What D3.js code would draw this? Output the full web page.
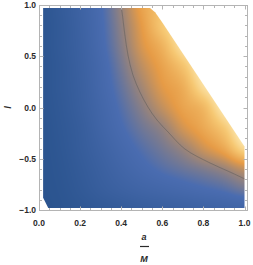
<!DOCTYPE html>
<html>
<head>
<meta charset="utf-8">
<script src="https://cdn.jsdelivr.net/npm/d3@7"></script>
<style>
  body { margin: 0; background: #fff; }
  svg { display: block; }
  text { font-family: "Liberation Sans", Arial, sans-serif; }
</style>
</head>
<body>
<div id="chart"></div>
<script>
// grid of density levels (0 = dark blue, 1 = pale yellow)
const spinValues = [0, 0.1, 0.2, 0.3, 0.4, 0.5, 0.6, 0.7, 0.8, 0.9, 1.0];
const lValues = [1.0, 0.8, 0.6, 0.4, 0.2, 0.0, -0.2, -0.4, -0.6, -0.8, -1.0];
const levels = [
  [0.04, 0.12, 0.22, 0.34, 0.50, 0.68, 0.80, 0.88, 0.92, 0.95, 1.00],
  [0.04, 0.11, 0.21, 0.33, 0.48, 0.65, 0.82, 0.95, 1.00, 1.00, 1.00],
  [0.04, 0.11, 0.20, 0.32, 0.46, 0.62, 0.74, 0.92, 1.00, 1.00, 1.00],
  [0.04, 0.10, 0.19, 0.30, 0.43, 0.57, 0.68, 0.80, 0.97, 1.00, 1.00],
  [0.04, 0.10, 0.18, 0.29, 0.40, 0.52, 0.64, 0.72, 0.90, 1.00, 1.00],
  [0.04, 0.09, 0.17, 0.27, 0.37, 0.47, 0.58, 0.68, 0.76, 0.95, 1.00],
  [0.03, 0.08, 0.15, 0.25, 0.34, 0.42, 0.49, 0.61, 0.70, 0.82, 1.00],
  [0.03, 0.07, 0.14, 0.22, 0.30, 0.37, 0.43, 0.50, 0.60, 0.70, 0.88],
  [0.03, 0.06, 0.12, 0.19, 0.26, 0.32, 0.37, 0.41, 0.45, 0.50, 0.58],
  [0.03, 0.05, 0.10, 0.16, 0.21, 0.25, 0.28, 0.31, 0.34, 0.37, 0.42],
  [0.02, 0.04, 0.07, 0.10, 0.13, 0.16, 0.18, 0.20, 0.22, 0.24, 0.25]
];

// edge of the region where the plot is defined
const edgeSpin = [0.02, 0.54, 0.565, 0.60, 1.0, 1.0, 0.045, 0.02];
const edgeL = [0.97, 0.97, 0.93, 0.83, -0.38, -0.98, -0.98, -0.88];

// the grey contour line
const contourSpin = [0.399, 0.404, 0.418, 0.433, 0.457, 0.491, 0.530, 0.574, 0.628, 0.710, 0.832, 0.929, 1.002];
const contourL = [0.98, 0.93, 0.707, 0.512, 0.317, 0.151, 0.005, -0.122, -0.239, -0.405, -0.541, -0.629, -0.698];

const xTicks = [0, 0.2, 0.4, 0.6, 0.8, 1.0];
const yTicks = [-1, -0.5, 0, 0.5, 1];

const colorStops = [0, 0.35, 0.65, 0.82, 1];
const colorRange = ["#28528c", "#4a6cb0", "#e69b46", "#f6c873", "#fff6cc"];

const width = 253, height = 265;
const frame = { left: 39, right: 247, top: 5, bottom: 210 };

const x = d3.scaleLinear().domain([0, 1]).range([39, 244.5]);
const y = d3.scaleLinear().domain([-1, 1]).range([210, 5]);
const color = d3.scaleLinear().domain(colorStops).range(colorRange)
  .interpolate(d3.interpolateRgb).clamp(true);

// smooth lookup in the level grid
function cubic(p0, p1, p2, p3, t) {
  return p1 + 0.5 * t * (p2 - p0 + t * (2 * p0 - 5 * p1 + 4 * p2 - p3 + t * (3 * (p1 - p2) + p3 - p0)));
}
function levelAt(a, l) {
  const n = spinValues.length, m = lValues.length;
  const gx = Math.max(0, Math.min(n - 1, (a - spinValues[0]) / (spinValues[1] - spinValues[0])));
  const gy = Math.max(0, Math.min(m - 1, (l - lValues[0]) / (lValues[1] - lValues[0])));
  const i = Math.min(n - 2, Math.floor(gx)), j = Math.min(m - 2, Math.floor(gy));
  const fx = gx - i, fy = gy - j;
  const ci = k => Math.max(0, Math.min(n - 1, k));
  const cj = k => Math.max(0, Math.min(m - 1, k));
  const rows = [-1, 0, 1, 2].map(dj => {
    const r = levels[cj(j + dj)];
    return cubic(r[ci(i - 1)], r[ci(i)], r[ci(i + 1)], r[ci(i + 2)], fx);
  });
  return cubic(rows[0], rows[1], rows[2], rows[3], fy);
}

const svg = d3.select("#chart").append("svg")
  .attr("width", width).attr("height", height);

svg.append("clipPath").attr("id", "region")
  .append("polygon")
  .attr("points", edgeSpin.map((a, i) => [x(a), y(edgeL[i])].join(",")).join(" "));

// density image
const canvas = document.createElement("canvas");
canvas.width = width; canvas.height = height;
const ctx = canvas.getContext("2d");
const img = ctx.createImageData(width, height);
for (let py = frame.top; py <= frame.bottom; py++) {
  for (let px = frame.left; px <= frame.right; px++) {
    const c = d3.rgb(color(levelAt(x.invert(px + 0.5), y.invert(py + 0.5))));
    const k = (py * width + px) * 4;
    img.data[k] = c.r; img.data[k + 1] = c.g; img.data[k + 2] = c.b; img.data[k + 3] = 255;
  }
}
ctx.putImageData(img, 0, 0);

const plot = svg.append("g").attr("clip-path", "url(#region)");
plot.append("image")
  .attr("width", width).attr("height", height)
  .attr("href", canvas.toDataURL());

const line = d3.line()
  .x((d, i) => x(contourSpin[i]))
  .y((d, i) => y(contourL[i]))
  .curve(d3.curveCatmullRom);
plot.append("path")
  .attr("d", line(contourSpin))
  .attr("fill", "none")
  .attr("stroke", "#5a5a5a")
  .attr("stroke-opacity", 0.5)
  .attr("stroke-width", 1);

// frame and ticks
const frameColor = "#b4b4b4";
svg.append("rect")
  .attr("x", frame.left + 0.5).attr("y", frame.top + 0.5)
  .attr("width", frame.right - frame.left).attr("height", frame.bottom - frame.top)
  .attr("fill", "none").attr("stroke", frameColor);

const ticks = svg.append("g").attr("stroke", frameColor).attr("stroke-width", 1);
const xMinor = d3.range(0, 1.0001, 0.05);
const yMinor = d3.range(-1, 1.0001, 0.1);
xMinor.forEach(v => {
  const major = xTicks.some(t => Math.abs(t - v) < 1e-6);
  const len = major ? 4 : 2.5;
  const px = Math.round(x(v)) + 0.5;
  ticks.append("line").attr("x1", px).attr("x2", px)
    .attr("y1", frame.bottom + 0.5).attr("y2", frame.bottom + 0.5 - len);
  ticks.append("line").attr("x1", px).attr("x2", px)
    .attr("y1", frame.top + 0.5).attr("y2", frame.top + 0.5 + len);
});
yMinor.forEach(v => {
  const major = yTicks.some(t => Math.abs(t - v) < 1e-6);
  const len = major ? 4 : 2.5;
  const py = Math.round(y(v)) + 0.5;
  ticks.append("line").attr("y1", py).attr("y2", py)
    .attr("x1", frame.left + 0.5).attr("x2", frame.left + 0.5 + len);
  ticks.append("line").attr("y1", py).attr("y2", py)
    .attr("x1", frame.right + 0.5).attr("x2", frame.right + 0.5 - len);
});

const fmt = d3.format(".1f");
const minus = s => s.replace("-", "\u2212");
svg.append("g").selectAll("text").data(xTicks).join("text")
  .attr("x", d => x(d)).attr("y", 226)
  .attr("text-anchor", "middle")
  .attr("font-size", 8.5).attr("font-weight", "bold").attr("fill", "#2a2a2a")
  .text(d => fmt(d));
svg.append("g").selectAll("text").data(yTicks).join("text")
  .attr("x", 36).attr("y", d => y(d) + 3)
  .attr("text-anchor", "end")
  .attr("font-size", 8.5).attr("font-weight", "bold").attr("fill", "#2a2a2a")
  .text(d => minus(fmt(d)));

// axis labels
svg.append("text")
  .attr("transform", `translate(11,${y(0)}) rotate(-90)`)
  .attr("text-anchor", "middle")
  .attr("font-size", 9).attr("font-style", "italic").attr("font-weight", "bold")
  .attr("fill", "#2a2a2a")
  .text("l");
svg.append("text").attr("x", 144).attr("y", 240)
  .attr("text-anchor", "middle")
  .attr("font-size", 9).attr("font-style", "italic").attr("font-weight", "bold")
  .attr("fill", "#2a2a2a").text("a");
svg.append("line").attr("x1", 140).attr("x2", 149).attr("y1", 246.5).attr("y2", 246.5)
  .attr("stroke", "#2a2a2a").attr("stroke-width", 1.2);
svg.append("text").attr("x", 144).attr("y", 261.5)
  .attr("text-anchor", "middle")
  .attr("font-size", 9).attr("font-style", "italic").attr("font-weight", "bold")
  .attr("fill", "#2a2a2a").text("M");
</script>
</body>
</html>
